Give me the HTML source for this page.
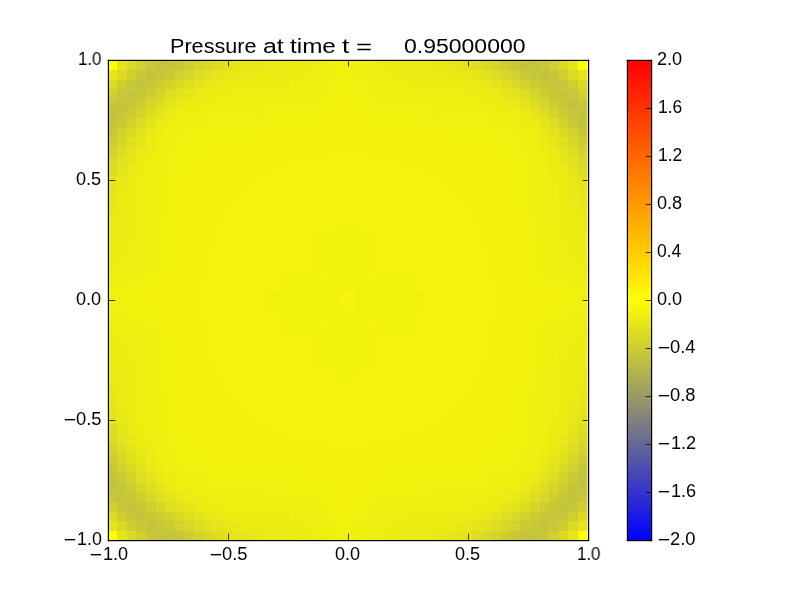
<!DOCTYPE html>
<html><head><meta charset="utf-8"><style>
html,body{margin:0;padding:0;background:#fff;width:800px;height:600px;overflow:hidden;position:relative}
.t{position:absolute;transform-origin:0 0;will-change:transform;font-family:"Liberation Sans",sans-serif;color:#000;white-space:pre;line-height:1}
svg{position:absolute;left:0;top:0}
</style></head><body>
<svg width="800" height="600" viewBox="0 0 800 600">
<defs><linearGradient id="cb" x1="0" y1="1" x2="0" y2="0">
<stop offset="0" stop-color="#0000ff"/><stop offset="0.25" stop-color="#808080"/><stop offset="0.5" stop-color="#ffff00"/><stop offset="1" stop-color="#ff0000"/>
</linearGradient></defs>
<svg x="107.5" y="60.5" width="480" height="480" viewBox="0 0 50 50" preserveAspectRatio="none" style="shape-rendering:crispEdges">
<rect x="0" y="0" width="1" height="1" fill="#ffff00"/>
<rect x="1" y="0" width="1" height="1" fill="#e5e51a"/>
<rect x="2" y="0" width="1" height="1" fill="#dbdb24"/>
<rect x="3" y="0" width="1" height="1" fill="#d0d030"/>
<rect x="4" y="0" width="1" height="1" fill="#c7c738"/>
<rect x="5" y="0" width="1" height="1" fill="#c4c43c"/>
<rect x="6" y="0" width="1" height="1" fill="#c5c53b"/>
<rect x="7" y="0" width="1" height="1" fill="#c8c837"/>
<rect x="8" y="0" width="1" height="1" fill="#cece32"/>
<rect x="9" y="0" width="1" height="1" fill="#d4d42c"/>
<rect x="10" y="0" width="1" height="1" fill="#d9d926"/>
<rect x="11" y="0" width="1" height="1" fill="#dede21"/>
<rect x="12" y="0" width="1" height="1" fill="#e2e21d"/>
<rect x="13" y="0" width="1" height="1" fill="#e5e51a"/>
<rect x="14" y="0" width="1" height="1" fill="#e7e718"/>
<rect x="15" y="0" width="1" height="1" fill="#e8e817"/>
<rect x="16" y="0" width="1" height="1" fill="#eaea16"/>
<rect x="17" y="0" width="1" height="1" fill="#eaea15"/>
<rect x="18" y="0" width="2" height="1" fill="#ebeb14"/>
<rect x="20" y="0" width="1" height="1" fill="#ecec13"/>
<rect x="21" y="0" width="1" height="1" fill="#eded12"/>
<rect x="22" y="0" width="1" height="1" fill="#eeee11"/>
<rect x="23" y="0" width="1" height="1" fill="#f0f010"/>
<rect x="24" y="0" width="2" height="1" fill="#f1f10f"/>
<rect x="26" y="0" width="1" height="1" fill="#f0f010"/>
<rect x="27" y="0" width="1" height="1" fill="#eeee11"/>
<rect x="28" y="0" width="1" height="1" fill="#eded12"/>
<rect x="29" y="0" width="1" height="1" fill="#ecec13"/>
<rect x="30" y="0" width="2" height="1" fill="#ebeb14"/>
<rect x="32" y="0" width="1" height="1" fill="#eaea15"/>
<rect x="33" y="0" width="1" height="1" fill="#eaea16"/>
<rect x="34" y="0" width="1" height="1" fill="#e8e817"/>
<rect x="35" y="0" width="1" height="1" fill="#e7e718"/>
<rect x="36" y="0" width="1" height="1" fill="#e5e51a"/>
<rect x="37" y="0" width="1" height="1" fill="#e2e21d"/>
<rect x="38" y="0" width="1" height="1" fill="#dede21"/>
<rect x="39" y="0" width="1" height="1" fill="#d9d926"/>
<rect x="40" y="0" width="1" height="1" fill="#d4d42c"/>
<rect x="41" y="0" width="1" height="1" fill="#cece32"/>
<rect x="42" y="0" width="1" height="1" fill="#c8c837"/>
<rect x="43" y="0" width="1" height="1" fill="#c5c53b"/>
<rect x="44" y="0" width="1" height="1" fill="#c4c43c"/>
<rect x="45" y="0" width="1" height="1" fill="#c7c738"/>
<rect x="46" y="0" width="1" height="1" fill="#d0d030"/>
<rect x="47" y="0" width="1" height="1" fill="#dbdb24"/>
<rect x="48" y="0" width="1" height="1" fill="#e5e51a"/>
<rect x="49" y="0" width="1" height="1" fill="#ffff00"/>
<rect x="0" y="1" width="1" height="1" fill="#e5e51a"/>
<rect x="1" y="1" width="1" height="1" fill="#dbdb24"/>
<rect x="2" y="1" width="1" height="1" fill="#cfcf30"/>
<rect x="3" y="1" width="1" height="1" fill="#c7c739"/>
<rect x="4" y="1" width="1" height="1" fill="#c4c43b"/>
<rect x="5" y="1" width="1" height="1" fill="#c6c63a"/>
<rect x="6" y="1" width="1" height="1" fill="#caca35"/>
<rect x="7" y="1" width="1" height="1" fill="#d1d12f"/>
<rect x="8" y="1" width="1" height="1" fill="#d7d728"/>
<rect x="9" y="1" width="1" height="1" fill="#dddd22"/>
<rect x="10" y="1" width="1" height="1" fill="#e2e21e"/>
<rect x="11" y="1" width="1" height="1" fill="#e5e51a"/>
<rect x="12" y="1" width="1" height="1" fill="#e8e818"/>
<rect x="13" y="1" width="1" height="1" fill="#e9e916"/>
<rect x="14" y="1" width="1" height="1" fill="#eaea15"/>
<rect x="15" y="1" width="1" height="1" fill="#ebeb14"/>
<rect x="16" y="1" width="4" height="1" fill="#ecec13"/>
<rect x="20" y="1" width="1" height="1" fill="#eded12"/>
<rect x="21" y="1" width="1" height="1" fill="#eeee11"/>
<rect x="22" y="1" width="1" height="1" fill="#efef10"/>
<rect x="23" y="1" width="1" height="1" fill="#f0f00f"/>
<rect x="24" y="1" width="2" height="1" fill="#f1f10e"/>
<rect x="26" y="1" width="1" height="1" fill="#f0f00f"/>
<rect x="27" y="1" width="1" height="1" fill="#efef10"/>
<rect x="28" y="1" width="1" height="1" fill="#eeee11"/>
<rect x="29" y="1" width="1" height="1" fill="#eded12"/>
<rect x="30" y="1" width="4" height="1" fill="#ecec13"/>
<rect x="34" y="1" width="1" height="1" fill="#ebeb14"/>
<rect x="35" y="1" width="1" height="1" fill="#eaea15"/>
<rect x="36" y="1" width="1" height="1" fill="#e9e916"/>
<rect x="37" y="1" width="1" height="1" fill="#e8e818"/>
<rect x="38" y="1" width="1" height="1" fill="#e5e51a"/>
<rect x="39" y="1" width="1" height="1" fill="#e2e21e"/>
<rect x="40" y="1" width="1" height="1" fill="#dddd22"/>
<rect x="41" y="1" width="1" height="1" fill="#d7d728"/>
<rect x="42" y="1" width="1" height="1" fill="#d1d12f"/>
<rect x="43" y="1" width="1" height="1" fill="#caca35"/>
<rect x="44" y="1" width="1" height="1" fill="#c6c63a"/>
<rect x="45" y="1" width="1" height="1" fill="#c4c43b"/>
<rect x="46" y="1" width="1" height="1" fill="#c7c739"/>
<rect x="47" y="1" width="1" height="1" fill="#cfcf30"/>
<rect x="48" y="1" width="1" height="1" fill="#dbdb24"/>
<rect x="49" y="1" width="1" height="1" fill="#e5e51a"/>
<rect x="0" y="2" width="1" height="1" fill="#dbdb24"/>
<rect x="1" y="2" width="1" height="1" fill="#cfcf30"/>
<rect x="2" y="2" width="1" height="1" fill="#c7c738"/>
<rect x="3" y="2" width="1" height="1" fill="#c5c53b"/>
<rect x="4" y="2" width="1" height="1" fill="#c7c738"/>
<rect x="5" y="2" width="1" height="1" fill="#cdcd33"/>
<rect x="6" y="2" width="1" height="1" fill="#d3d32c"/>
<rect x="7" y="2" width="1" height="1" fill="#dada25"/>
<rect x="8" y="2" width="1" height="1" fill="#e0e01f"/>
<rect x="9" y="2" width="1" height="1" fill="#e5e51b"/>
<rect x="10" y="2" width="1" height="1" fill="#e8e817"/>
<rect x="11" y="2" width="1" height="1" fill="#eaea15"/>
<rect x="12" y="2" width="1" height="1" fill="#ebeb14"/>
<rect x="13" y="2" width="1" height="1" fill="#ecec13"/>
<rect x="14" y="2" width="5" height="1" fill="#eded12"/>
<rect x="19" y="2" width="2" height="1" fill="#eeee11"/>
<rect x="21" y="2" width="1" height="1" fill="#efef11"/>
<rect x="22" y="2" width="1" height="1" fill="#f0f010"/>
<rect x="23" y="2" width="1" height="1" fill="#f1f10f"/>
<rect x="24" y="2" width="2" height="1" fill="#f1f10e"/>
<rect x="26" y="2" width="1" height="1" fill="#f1f10f"/>
<rect x="27" y="2" width="1" height="1" fill="#f0f010"/>
<rect x="28" y="2" width="1" height="1" fill="#efef11"/>
<rect x="29" y="2" width="2" height="1" fill="#eeee11"/>
<rect x="31" y="2" width="5" height="1" fill="#eded12"/>
<rect x="36" y="2" width="1" height="1" fill="#ecec13"/>
<rect x="37" y="2" width="1" height="1" fill="#ebeb14"/>
<rect x="38" y="2" width="1" height="1" fill="#eaea15"/>
<rect x="39" y="2" width="1" height="1" fill="#e8e817"/>
<rect x="40" y="2" width="1" height="1" fill="#e5e51b"/>
<rect x="41" y="2" width="1" height="1" fill="#e0e01f"/>
<rect x="42" y="2" width="1" height="1" fill="#dada25"/>
<rect x="43" y="2" width="1" height="1" fill="#d3d32c"/>
<rect x="44" y="2" width="1" height="1" fill="#cdcd33"/>
<rect x="45" y="2" width="1" height="1" fill="#c7c738"/>
<rect x="46" y="2" width="1" height="1" fill="#c5c53b"/>
<rect x="47" y="2" width="1" height="1" fill="#c7c738"/>
<rect x="48" y="2" width="1" height="1" fill="#cfcf30"/>
<rect x="49" y="2" width="1" height="1" fill="#dbdb24"/>
<rect x="0" y="3" width="1" height="1" fill="#d0d030"/>
<rect x="1" y="3" width="1" height="1" fill="#c7c739"/>
<rect x="2" y="3" width="1" height="1" fill="#c5c53b"/>
<rect x="3" y="3" width="1" height="1" fill="#c8c837"/>
<rect x="4" y="3" width="1" height="1" fill="#cece31"/>
<rect x="5" y="3" width="1" height="1" fill="#d6d62a"/>
<rect x="6" y="3" width="1" height="1" fill="#dddd23"/>
<rect x="7" y="3" width="1" height="1" fill="#e3e31d"/>
<rect x="8" y="3" width="1" height="1" fill="#e7e718"/>
<rect x="9" y="3" width="1" height="1" fill="#eaea15"/>
<rect x="10" y="3" width="1" height="1" fill="#ecec13"/>
<rect x="11" y="3" width="1" height="1" fill="#eded12"/>
<rect x="12" y="3" width="1" height="1" fill="#eeee12"/>
<rect x="13" y="3" width="4" height="1" fill="#eeee11"/>
<rect x="17" y="3" width="1" height="1" fill="#efef11"/>
<rect x="18" y="3" width="4" height="1" fill="#efef10"/>
<rect x="22" y="3" width="1" height="1" fill="#f0f00f"/>
<rect x="23" y="3" width="1" height="1" fill="#f1f10e"/>
<rect x="24" y="3" width="2" height="1" fill="#f2f20e"/>
<rect x="26" y="3" width="1" height="1" fill="#f1f10e"/>
<rect x="27" y="3" width="1" height="1" fill="#f0f00f"/>
<rect x="28" y="3" width="4" height="1" fill="#efef10"/>
<rect x="32" y="3" width="1" height="1" fill="#efef11"/>
<rect x="33" y="3" width="4" height="1" fill="#eeee11"/>
<rect x="37" y="3" width="1" height="1" fill="#eeee12"/>
<rect x="38" y="3" width="1" height="1" fill="#eded12"/>
<rect x="39" y="3" width="1" height="1" fill="#ecec13"/>
<rect x="40" y="3" width="1" height="1" fill="#eaea15"/>
<rect x="41" y="3" width="1" height="1" fill="#e7e718"/>
<rect x="42" y="3" width="1" height="1" fill="#e3e31d"/>
<rect x="43" y="3" width="1" height="1" fill="#dddd23"/>
<rect x="44" y="3" width="1" height="1" fill="#d6d62a"/>
<rect x="45" y="3" width="1" height="1" fill="#cece31"/>
<rect x="46" y="3" width="1" height="1" fill="#c8c837"/>
<rect x="47" y="3" width="1" height="1" fill="#c5c53b"/>
<rect x="48" y="3" width="1" height="1" fill="#c7c739"/>
<rect x="49" y="3" width="1" height="1" fill="#d0d030"/>
<rect x="0" y="4" width="1" height="1" fill="#c7c738"/>
<rect x="1" y="4" width="1" height="1" fill="#c4c43b"/>
<rect x="2" y="4" width="1" height="1" fill="#c7c738"/>
<rect x="3" y="4" width="1" height="1" fill="#cece31"/>
<rect x="4" y="4" width="1" height="1" fill="#d7d729"/>
<rect x="5" y="4" width="1" height="1" fill="#dede21"/>
<rect x="6" y="4" width="1" height="1" fill="#e4e41b"/>
<rect x="7" y="4" width="1" height="1" fill="#e9e916"/>
<rect x="8" y="4" width="1" height="1" fill="#ecec14"/>
<rect x="9" y="4" width="1" height="1" fill="#eded12"/>
<rect x="10" y="4" width="1" height="1" fill="#eeee11"/>
<rect x="11" y="4" width="4" height="1" fill="#efef10"/>
<rect x="15" y="4" width="2" height="1" fill="#f0f010"/>
<rect x="17" y="4" width="5" height="1" fill="#f0f00f"/>
<rect x="22" y="4" width="2" height="1" fill="#f1f10e"/>
<rect x="24" y="4" width="2" height="1" fill="#f2f20d"/>
<rect x="26" y="4" width="2" height="1" fill="#f1f10e"/>
<rect x="28" y="4" width="5" height="1" fill="#f0f00f"/>
<rect x="33" y="4" width="2" height="1" fill="#f0f010"/>
<rect x="35" y="4" width="4" height="1" fill="#efef10"/>
<rect x="39" y="4" width="1" height="1" fill="#eeee11"/>
<rect x="40" y="4" width="1" height="1" fill="#eded12"/>
<rect x="41" y="4" width="1" height="1" fill="#ecec14"/>
<rect x="42" y="4" width="1" height="1" fill="#e9e916"/>
<rect x="43" y="4" width="1" height="1" fill="#e4e41b"/>
<rect x="44" y="4" width="1" height="1" fill="#dede21"/>
<rect x="45" y="4" width="1" height="1" fill="#d7d729"/>
<rect x="46" y="4" width="1" height="1" fill="#cece31"/>
<rect x="47" y="4" width="1" height="1" fill="#c7c738"/>
<rect x="48" y="4" width="1" height="1" fill="#c4c43b"/>
<rect x="49" y="4" width="1" height="1" fill="#c7c738"/>
<rect x="0" y="5" width="1" height="1" fill="#c4c43c"/>
<rect x="1" y="5" width="1" height="1" fill="#c6c63a"/>
<rect x="2" y="5" width="1" height="1" fill="#cdcd33"/>
<rect x="3" y="5" width="1" height="1" fill="#d6d62a"/>
<rect x="4" y="5" width="1" height="1" fill="#dede21"/>
<rect x="5" y="5" width="1" height="1" fill="#e5e51a"/>
<rect x="6" y="5" width="1" height="1" fill="#eaea15"/>
<rect x="7" y="5" width="1" height="1" fill="#eded13"/>
<rect x="8" y="5" width="1" height="1" fill="#eeee11"/>
<rect x="9" y="5" width="1" height="1" fill="#efef10"/>
<rect x="10" y="5" width="6" height="1" fill="#f0f00f"/>
<rect x="16" y="5" width="2" height="1" fill="#f1f10f"/>
<rect x="18" y="5" width="5" height="1" fill="#f1f10e"/>
<rect x="23" y="5" width="4" height="1" fill="#f2f20d"/>
<rect x="27" y="5" width="5" height="1" fill="#f1f10e"/>
<rect x="32" y="5" width="2" height="1" fill="#f1f10f"/>
<rect x="34" y="5" width="6" height="1" fill="#f0f00f"/>
<rect x="40" y="5" width="1" height="1" fill="#efef10"/>
<rect x="41" y="5" width="1" height="1" fill="#eeee11"/>
<rect x="42" y="5" width="1" height="1" fill="#eded13"/>
<rect x="43" y="5" width="1" height="1" fill="#eaea15"/>
<rect x="44" y="5" width="1" height="1" fill="#e5e51a"/>
<rect x="45" y="5" width="1" height="1" fill="#dede21"/>
<rect x="46" y="5" width="1" height="1" fill="#d6d62a"/>
<rect x="47" y="5" width="1" height="1" fill="#cdcd33"/>
<rect x="48" y="5" width="1" height="1" fill="#c6c63a"/>
<rect x="49" y="5" width="1" height="1" fill="#c4c43c"/>
<rect x="0" y="6" width="1" height="1" fill="#c5c53b"/>
<rect x="1" y="6" width="1" height="1" fill="#caca35"/>
<rect x="2" y="6" width="1" height="1" fill="#d3d32c"/>
<rect x="3" y="6" width="1" height="1" fill="#dddd23"/>
<rect x="4" y="6" width="1" height="1" fill="#e4e41b"/>
<rect x="5" y="6" width="1" height="1" fill="#eaea15"/>
<rect x="6" y="6" width="1" height="1" fill="#eded12"/>
<rect x="7" y="6" width="1" height="1" fill="#efef10"/>
<rect x="8" y="6" width="2" height="1" fill="#f0f00f"/>
<rect x="10" y="6" width="1" height="1" fill="#f1f10f"/>
<rect x="11" y="6" width="10" height="1" fill="#f1f10e"/>
<rect x="21" y="6" width="1" height="1" fill="#f2f20e"/>
<rect x="22" y="6" width="6" height="1" fill="#f2f20d"/>
<rect x="28" y="6" width="1" height="1" fill="#f2f20e"/>
<rect x="29" y="6" width="10" height="1" fill="#f1f10e"/>
<rect x="39" y="6" width="1" height="1" fill="#f1f10f"/>
<rect x="40" y="6" width="2" height="1" fill="#f0f00f"/>
<rect x="42" y="6" width="1" height="1" fill="#efef10"/>
<rect x="43" y="6" width="1" height="1" fill="#eded12"/>
<rect x="44" y="6" width="1" height="1" fill="#eaea15"/>
<rect x="45" y="6" width="1" height="1" fill="#e4e41b"/>
<rect x="46" y="6" width="1" height="1" fill="#dddd23"/>
<rect x="47" y="6" width="1" height="1" fill="#d3d32c"/>
<rect x="48" y="6" width="1" height="1" fill="#caca35"/>
<rect x="49" y="6" width="1" height="1" fill="#c5c53b"/>
<rect x="0" y="7" width="1" height="1" fill="#c8c837"/>
<rect x="1" y="7" width="1" height="1" fill="#d1d12f"/>
<rect x="2" y="7" width="1" height="1" fill="#dada25"/>
<rect x="3" y="7" width="1" height="1" fill="#e3e31d"/>
<rect x="4" y="7" width="1" height="1" fill="#e9e916"/>
<rect x="5" y="7" width="1" height="1" fill="#eded13"/>
<rect x="6" y="7" width="1" height="1" fill="#efef10"/>
<rect x="7" y="7" width="1" height="1" fill="#f0f00f"/>
<rect x="8" y="7" width="1" height="1" fill="#f1f10f"/>
<rect x="9" y="7" width="6" height="1" fill="#f1f10e"/>
<rect x="15" y="7" width="1" height="1" fill="#f2f20e"/>
<rect x="16" y="7" width="18" height="1" fill="#f2f20d"/>
<rect x="34" y="7" width="1" height="1" fill="#f2f20e"/>
<rect x="35" y="7" width="6" height="1" fill="#f1f10e"/>
<rect x="41" y="7" width="1" height="1" fill="#f1f10f"/>
<rect x="42" y="7" width="1" height="1" fill="#f0f00f"/>
<rect x="43" y="7" width="1" height="1" fill="#efef10"/>
<rect x="44" y="7" width="1" height="1" fill="#eded13"/>
<rect x="45" y="7" width="1" height="1" fill="#e9e916"/>
<rect x="46" y="7" width="1" height="1" fill="#e3e31d"/>
<rect x="47" y="7" width="1" height="1" fill="#dada25"/>
<rect x="48" y="7" width="1" height="1" fill="#d1d12f"/>
<rect x="49" y="7" width="1" height="1" fill="#c8c837"/>
<rect x="0" y="8" width="1" height="1" fill="#cece32"/>
<rect x="1" y="8" width="1" height="1" fill="#d7d728"/>
<rect x="2" y="8" width="1" height="1" fill="#e0e01f"/>
<rect x="3" y="8" width="1" height="1" fill="#e7e718"/>
<rect x="4" y="8" width="1" height="1" fill="#ecec14"/>
<rect x="5" y="8" width="1" height="1" fill="#eeee11"/>
<rect x="6" y="8" width="1" height="1" fill="#f0f00f"/>
<rect x="7" y="8" width="1" height="1" fill="#f1f10f"/>
<rect x="8" y="8" width="3" height="1" fill="#f1f10e"/>
<rect x="11" y="8" width="1" height="1" fill="#f2f20e"/>
<rect x="12" y="8" width="26" height="1" fill="#f2f20d"/>
<rect x="38" y="8" width="1" height="1" fill="#f2f20e"/>
<rect x="39" y="8" width="3" height="1" fill="#f1f10e"/>
<rect x="42" y="8" width="1" height="1" fill="#f1f10f"/>
<rect x="43" y="8" width="1" height="1" fill="#f0f00f"/>
<rect x="44" y="8" width="1" height="1" fill="#eeee11"/>
<rect x="45" y="8" width="1" height="1" fill="#ecec14"/>
<rect x="46" y="8" width="1" height="1" fill="#e7e718"/>
<rect x="47" y="8" width="1" height="1" fill="#e0e01f"/>
<rect x="48" y="8" width="1" height="1" fill="#d7d728"/>
<rect x="49" y="8" width="1" height="1" fill="#cece32"/>
<rect x="0" y="9" width="1" height="1" fill="#d4d42c"/>
<rect x="1" y="9" width="1" height="1" fill="#dddd22"/>
<rect x="2" y="9" width="1" height="1" fill="#e5e51b"/>
<rect x="3" y="9" width="1" height="1" fill="#eaea15"/>
<rect x="4" y="9" width="1" height="1" fill="#eded12"/>
<rect x="5" y="9" width="1" height="1" fill="#efef10"/>
<rect x="6" y="9" width="1" height="1" fill="#f0f00f"/>
<rect x="7" y="9" width="3" height="1" fill="#f1f10e"/>
<rect x="10" y="9" width="1" height="1" fill="#f2f20e"/>
<rect x="11" y="9" width="12" height="1" fill="#f2f20d"/>
<rect x="23" y="9" width="4" height="1" fill="#f3f30d"/>
<rect x="27" y="9" width="12" height="1" fill="#f2f20d"/>
<rect x="39" y="9" width="1" height="1" fill="#f2f20e"/>
<rect x="40" y="9" width="3" height="1" fill="#f1f10e"/>
<rect x="43" y="9" width="1" height="1" fill="#f0f00f"/>
<rect x="44" y="9" width="1" height="1" fill="#efef10"/>
<rect x="45" y="9" width="1" height="1" fill="#eded12"/>
<rect x="46" y="9" width="1" height="1" fill="#eaea15"/>
<rect x="47" y="9" width="1" height="1" fill="#e5e51b"/>
<rect x="48" y="9" width="1" height="1" fill="#dddd22"/>
<rect x="49" y="9" width="1" height="1" fill="#d4d42c"/>
<rect x="0" y="10" width="1" height="1" fill="#d9d926"/>
<rect x="1" y="10" width="1" height="1" fill="#e2e21e"/>
<rect x="2" y="10" width="1" height="1" fill="#e8e817"/>
<rect x="3" y="10" width="1" height="1" fill="#ecec13"/>
<rect x="4" y="10" width="1" height="1" fill="#eeee11"/>
<rect x="5" y="10" width="1" height="1" fill="#f0f00f"/>
<rect x="6" y="10" width="1" height="1" fill="#f1f10f"/>
<rect x="7" y="10" width="2" height="1" fill="#f1f10e"/>
<rect x="9" y="10" width="1" height="1" fill="#f2f20e"/>
<rect x="10" y="10" width="9" height="1" fill="#f2f20d"/>
<rect x="19" y="10" width="2" height="1" fill="#f3f30d"/>
<rect x="21" y="10" width="8" height="1" fill="#f3f30c"/>
<rect x="29" y="10" width="2" height="1" fill="#f3f30d"/>
<rect x="31" y="10" width="9" height="1" fill="#f2f20d"/>
<rect x="40" y="10" width="1" height="1" fill="#f2f20e"/>
<rect x="41" y="10" width="2" height="1" fill="#f1f10e"/>
<rect x="43" y="10" width="1" height="1" fill="#f1f10f"/>
<rect x="44" y="10" width="1" height="1" fill="#f0f00f"/>
<rect x="45" y="10" width="1" height="1" fill="#eeee11"/>
<rect x="46" y="10" width="1" height="1" fill="#ecec13"/>
<rect x="47" y="10" width="1" height="1" fill="#e8e817"/>
<rect x="48" y="10" width="1" height="1" fill="#e2e21e"/>
<rect x="49" y="10" width="1" height="1" fill="#d9d926"/>
<rect x="0" y="11" width="1" height="1" fill="#dede21"/>
<rect x="1" y="11" width="1" height="1" fill="#e5e51a"/>
<rect x="2" y="11" width="1" height="1" fill="#eaea15"/>
<rect x="3" y="11" width="1" height="1" fill="#eded12"/>
<rect x="4" y="11" width="1" height="1" fill="#efef10"/>
<rect x="5" y="11" width="1" height="1" fill="#f0f00f"/>
<rect x="6" y="11" width="2" height="1" fill="#f1f10e"/>
<rect x="8" y="11" width="1" height="1" fill="#f2f20e"/>
<rect x="9" y="11" width="8" height="1" fill="#f2f20d"/>
<rect x="17" y="11" width="1" height="1" fill="#f3f30d"/>
<rect x="18" y="11" width="14" height="1" fill="#f3f30c"/>
<rect x="32" y="11" width="1" height="1" fill="#f3f30d"/>
<rect x="33" y="11" width="8" height="1" fill="#f2f20d"/>
<rect x="41" y="11" width="1" height="1" fill="#f2f20e"/>
<rect x="42" y="11" width="2" height="1" fill="#f1f10e"/>
<rect x="44" y="11" width="1" height="1" fill="#f0f00f"/>
<rect x="45" y="11" width="1" height="1" fill="#efef10"/>
<rect x="46" y="11" width="1" height="1" fill="#eded12"/>
<rect x="47" y="11" width="1" height="1" fill="#eaea15"/>
<rect x="48" y="11" width="1" height="1" fill="#e5e51a"/>
<rect x="49" y="11" width="1" height="1" fill="#dede21"/>
<rect x="0" y="12" width="1" height="1" fill="#e2e21d"/>
<rect x="1" y="12" width="1" height="1" fill="#e8e818"/>
<rect x="2" y="12" width="1" height="1" fill="#ebeb14"/>
<rect x="3" y="12" width="1" height="1" fill="#eeee12"/>
<rect x="4" y="12" width="1" height="1" fill="#efef10"/>
<rect x="5" y="12" width="1" height="1" fill="#f0f00f"/>
<rect x="6" y="12" width="2" height="1" fill="#f1f10e"/>
<rect x="8" y="12" width="7" height="1" fill="#f2f20d"/>
<rect x="15" y="12" width="1" height="1" fill="#f3f30d"/>
<rect x="16" y="12" width="18" height="1" fill="#f3f30c"/>
<rect x="34" y="12" width="1" height="1" fill="#f3f30d"/>
<rect x="35" y="12" width="7" height="1" fill="#f2f20d"/>
<rect x="42" y="12" width="2" height="1" fill="#f1f10e"/>
<rect x="44" y="12" width="1" height="1" fill="#f0f00f"/>
<rect x="45" y="12" width="1" height="1" fill="#efef10"/>
<rect x="46" y="12" width="1" height="1" fill="#eeee12"/>
<rect x="47" y="12" width="1" height="1" fill="#ebeb14"/>
<rect x="48" y="12" width="1" height="1" fill="#e8e818"/>
<rect x="49" y="12" width="1" height="1" fill="#e2e21d"/>
<rect x="0" y="13" width="1" height="1" fill="#e5e51a"/>
<rect x="1" y="13" width="1" height="1" fill="#e9e916"/>
<rect x="2" y="13" width="1" height="1" fill="#ecec13"/>
<rect x="3" y="13" width="1" height="1" fill="#eeee11"/>
<rect x="4" y="13" width="1" height="1" fill="#efef10"/>
<rect x="5" y="13" width="1" height="1" fill="#f0f00f"/>
<rect x="6" y="13" width="2" height="1" fill="#f1f10e"/>
<rect x="8" y="13" width="6" height="1" fill="#f2f20d"/>
<rect x="14" y="13" width="1" height="1" fill="#f3f30d"/>
<rect x="15" y="13" width="20" height="1" fill="#f3f30c"/>
<rect x="35" y="13" width="1" height="1" fill="#f3f30d"/>
<rect x="36" y="13" width="6" height="1" fill="#f2f20d"/>
<rect x="42" y="13" width="2" height="1" fill="#f1f10e"/>
<rect x="44" y="13" width="1" height="1" fill="#f0f00f"/>
<rect x="45" y="13" width="1" height="1" fill="#efef10"/>
<rect x="46" y="13" width="1" height="1" fill="#eeee11"/>
<rect x="47" y="13" width="1" height="1" fill="#ecec13"/>
<rect x="48" y="13" width="1" height="1" fill="#e9e916"/>
<rect x="49" y="13" width="1" height="1" fill="#e5e51a"/>
<rect x="0" y="14" width="1" height="1" fill="#e7e718"/>
<rect x="1" y="14" width="1" height="1" fill="#eaea15"/>
<rect x="2" y="14" width="1" height="1" fill="#eded12"/>
<rect x="3" y="14" width="1" height="1" fill="#eeee11"/>
<rect x="4" y="14" width="1" height="1" fill="#efef10"/>
<rect x="5" y="14" width="1" height="1" fill="#f0f00f"/>
<rect x="6" y="14" width="2" height="1" fill="#f1f10e"/>
<rect x="8" y="14" width="5" height="1" fill="#f2f20d"/>
<rect x="13" y="14" width="1" height="1" fill="#f3f30d"/>
<rect x="14" y="14" width="22" height="1" fill="#f3f30c"/>
<rect x="36" y="14" width="1" height="1" fill="#f3f30d"/>
<rect x="37" y="14" width="5" height="1" fill="#f2f20d"/>
<rect x="42" y="14" width="2" height="1" fill="#f1f10e"/>
<rect x="44" y="14" width="1" height="1" fill="#f0f00f"/>
<rect x="45" y="14" width="1" height="1" fill="#efef10"/>
<rect x="46" y="14" width="1" height="1" fill="#eeee11"/>
<rect x="47" y="14" width="1" height="1" fill="#eded12"/>
<rect x="48" y="14" width="1" height="1" fill="#eaea15"/>
<rect x="49" y="14" width="1" height="1" fill="#e7e718"/>
<rect x="0" y="15" width="1" height="1" fill="#e8e817"/>
<rect x="1" y="15" width="1" height="1" fill="#ebeb14"/>
<rect x="2" y="15" width="1" height="1" fill="#eded12"/>
<rect x="3" y="15" width="1" height="1" fill="#eeee11"/>
<rect x="4" y="15" width="1" height="1" fill="#f0f010"/>
<rect x="5" y="15" width="1" height="1" fill="#f0f00f"/>
<rect x="6" y="15" width="1" height="1" fill="#f1f10e"/>
<rect x="7" y="15" width="1" height="1" fill="#f2f20e"/>
<rect x="8" y="15" width="4" height="1" fill="#f2f20d"/>
<rect x="12" y="15" width="1" height="1" fill="#f3f30d"/>
<rect x="13" y="15" width="24" height="1" fill="#f3f30c"/>
<rect x="37" y="15" width="1" height="1" fill="#f3f30d"/>
<rect x="38" y="15" width="4" height="1" fill="#f2f20d"/>
<rect x="42" y="15" width="1" height="1" fill="#f2f20e"/>
<rect x="43" y="15" width="1" height="1" fill="#f1f10e"/>
<rect x="44" y="15" width="1" height="1" fill="#f0f00f"/>
<rect x="45" y="15" width="1" height="1" fill="#f0f010"/>
<rect x="46" y="15" width="1" height="1" fill="#eeee11"/>
<rect x="47" y="15" width="1" height="1" fill="#eded12"/>
<rect x="48" y="15" width="1" height="1" fill="#ebeb14"/>
<rect x="49" y="15" width="1" height="1" fill="#e8e817"/>
<rect x="0" y="16" width="1" height="1" fill="#eaea16"/>
<rect x="1" y="16" width="1" height="1" fill="#ecec13"/>
<rect x="2" y="16" width="1" height="1" fill="#eded12"/>
<rect x="3" y="16" width="1" height="1" fill="#eeee11"/>
<rect x="4" y="16" width="1" height="1" fill="#f0f010"/>
<rect x="5" y="16" width="1" height="1" fill="#f1f10f"/>
<rect x="6" y="16" width="1" height="1" fill="#f1f10e"/>
<rect x="7" y="16" width="5" height="1" fill="#f2f20d"/>
<rect x="12" y="16" width="26" height="1" fill="#f3f30c"/>
<rect x="38" y="16" width="5" height="1" fill="#f2f20d"/>
<rect x="43" y="16" width="1" height="1" fill="#f1f10e"/>
<rect x="44" y="16" width="1" height="1" fill="#f1f10f"/>
<rect x="45" y="16" width="1" height="1" fill="#f0f010"/>
<rect x="46" y="16" width="1" height="1" fill="#eeee11"/>
<rect x="47" y="16" width="1" height="1" fill="#eded12"/>
<rect x="48" y="16" width="1" height="1" fill="#ecec13"/>
<rect x="49" y="16" width="1" height="1" fill="#eaea16"/>
<rect x="0" y="17" width="1" height="1" fill="#eaea15"/>
<rect x="1" y="17" width="1" height="1" fill="#ecec13"/>
<rect x="2" y="17" width="1" height="1" fill="#eded12"/>
<rect x="3" y="17" width="1" height="1" fill="#efef11"/>
<rect x="4" y="17" width="1" height="1" fill="#f0f00f"/>
<rect x="5" y="17" width="1" height="1" fill="#f1f10f"/>
<rect x="6" y="17" width="1" height="1" fill="#f1f10e"/>
<rect x="7" y="17" width="4" height="1" fill="#f2f20d"/>
<rect x="11" y="17" width="1" height="1" fill="#f3f30d"/>
<rect x="12" y="17" width="12" height="1" fill="#f3f30c"/>
<rect x="24" y="17" width="2" height="1" fill="#f1f10e"/>
<rect x="26" y="17" width="12" height="1" fill="#f3f30c"/>
<rect x="38" y="17" width="1" height="1" fill="#f3f30d"/>
<rect x="39" y="17" width="4" height="1" fill="#f2f20d"/>
<rect x="43" y="17" width="1" height="1" fill="#f1f10e"/>
<rect x="44" y="17" width="1" height="1" fill="#f1f10f"/>
<rect x="45" y="17" width="1" height="1" fill="#f0f00f"/>
<rect x="46" y="17" width="1" height="1" fill="#efef11"/>
<rect x="47" y="17" width="1" height="1" fill="#eded12"/>
<rect x="48" y="17" width="1" height="1" fill="#ecec13"/>
<rect x="49" y="17" width="1" height="1" fill="#eaea15"/>
<rect x="0" y="18" width="1" height="1" fill="#ebeb14"/>
<rect x="1" y="18" width="1" height="1" fill="#ecec13"/>
<rect x="2" y="18" width="1" height="1" fill="#eded12"/>
<rect x="3" y="18" width="1" height="1" fill="#efef10"/>
<rect x="4" y="18" width="1" height="1" fill="#f0f00f"/>
<rect x="5" y="18" width="2" height="1" fill="#f1f10e"/>
<rect x="7" y="18" width="4" height="1" fill="#f2f20d"/>
<rect x="11" y="18" width="11" height="1" fill="#f3f30c"/>
<rect x="22" y="18" width="6" height="1" fill="#f1f10e"/>
<rect x="28" y="18" width="11" height="1" fill="#f3f30c"/>
<rect x="39" y="18" width="4" height="1" fill="#f2f20d"/>
<rect x="43" y="18" width="2" height="1" fill="#f1f10e"/>
<rect x="45" y="18" width="1" height="1" fill="#f0f00f"/>
<rect x="46" y="18" width="1" height="1" fill="#efef10"/>
<rect x="47" y="18" width="1" height="1" fill="#eded12"/>
<rect x="48" y="18" width="1" height="1" fill="#ecec13"/>
<rect x="49" y="18" width="1" height="1" fill="#ebeb14"/>
<rect x="0" y="19" width="1" height="1" fill="#ebeb14"/>
<rect x="1" y="19" width="1" height="1" fill="#ecec13"/>
<rect x="2" y="19" width="1" height="1" fill="#eeee11"/>
<rect x="3" y="19" width="1" height="1" fill="#efef10"/>
<rect x="4" y="19" width="1" height="1" fill="#f0f00f"/>
<rect x="5" y="19" width="2" height="1" fill="#f1f10e"/>
<rect x="7" y="19" width="3" height="1" fill="#f2f20d"/>
<rect x="10" y="19" width="1" height="1" fill="#f3f30d"/>
<rect x="11" y="19" width="11" height="1" fill="#f3f30c"/>
<rect x="22" y="19" width="6" height="1" fill="#f1f10e"/>
<rect x="28" y="19" width="11" height="1" fill="#f3f30c"/>
<rect x="39" y="19" width="1" height="1" fill="#f3f30d"/>
<rect x="40" y="19" width="3" height="1" fill="#f2f20d"/>
<rect x="43" y="19" width="2" height="1" fill="#f1f10e"/>
<rect x="45" y="19" width="1" height="1" fill="#f0f00f"/>
<rect x="46" y="19" width="1" height="1" fill="#efef10"/>
<rect x="47" y="19" width="1" height="1" fill="#eeee11"/>
<rect x="48" y="19" width="1" height="1" fill="#ecec13"/>
<rect x="49" y="19" width="1" height="1" fill="#ebeb14"/>
<rect x="0" y="20" width="1" height="1" fill="#ecec13"/>
<rect x="1" y="20" width="1" height="1" fill="#eded12"/>
<rect x="2" y="20" width="1" height="1" fill="#eeee11"/>
<rect x="3" y="20" width="1" height="1" fill="#efef10"/>
<rect x="4" y="20" width="1" height="1" fill="#f0f00f"/>
<rect x="5" y="20" width="2" height="1" fill="#f1f10e"/>
<rect x="7" y="20" width="3" height="1" fill="#f2f20d"/>
<rect x="10" y="20" width="1" height="1" fill="#f3f30d"/>
<rect x="11" y="20" width="11" height="1" fill="#f3f30c"/>
<rect x="22" y="20" width="6" height="1" fill="#f1f10e"/>
<rect x="28" y="20" width="11" height="1" fill="#f3f30c"/>
<rect x="39" y="20" width="1" height="1" fill="#f3f30d"/>
<rect x="40" y="20" width="3" height="1" fill="#f2f20d"/>
<rect x="43" y="20" width="2" height="1" fill="#f1f10e"/>
<rect x="45" y="20" width="1" height="1" fill="#f0f00f"/>
<rect x="46" y="20" width="1" height="1" fill="#efef10"/>
<rect x="47" y="20" width="1" height="1" fill="#eeee11"/>
<rect x="48" y="20" width="1" height="1" fill="#eded12"/>
<rect x="49" y="20" width="1" height="1" fill="#ecec13"/>
<rect x="0" y="21" width="1" height="1" fill="#eded12"/>
<rect x="1" y="21" width="1" height="1" fill="#eeee11"/>
<rect x="2" y="21" width="1" height="1" fill="#efef11"/>
<rect x="3" y="21" width="1" height="1" fill="#efef10"/>
<rect x="4" y="21" width="1" height="1" fill="#f0f00f"/>
<rect x="5" y="21" width="1" height="1" fill="#f1f10e"/>
<rect x="6" y="21" width="1" height="1" fill="#f2f20e"/>
<rect x="7" y="21" width="3" height="1" fill="#f2f20d"/>
<rect x="10" y="21" width="12" height="1" fill="#f3f30c"/>
<rect x="22" y="21" width="6" height="1" fill="#f1f10e"/>
<rect x="28" y="21" width="12" height="1" fill="#f3f30c"/>
<rect x="40" y="21" width="3" height="1" fill="#f2f20d"/>
<rect x="43" y="21" width="1" height="1" fill="#f2f20e"/>
<rect x="44" y="21" width="1" height="1" fill="#f1f10e"/>
<rect x="45" y="21" width="1" height="1" fill="#f0f00f"/>
<rect x="46" y="21" width="1" height="1" fill="#efef10"/>
<rect x="47" y="21" width="1" height="1" fill="#efef11"/>
<rect x="48" y="21" width="1" height="1" fill="#eeee11"/>
<rect x="49" y="21" width="1" height="1" fill="#eded12"/>
<rect x="0" y="22" width="1" height="1" fill="#eeee11"/>
<rect x="1" y="22" width="1" height="1" fill="#efef10"/>
<rect x="2" y="22" width="1" height="1" fill="#f0f010"/>
<rect x="3" y="22" width="1" height="1" fill="#f0f00f"/>
<rect x="4" y="22" width="2" height="1" fill="#f1f10e"/>
<rect x="6" y="22" width="4" height="1" fill="#f2f20d"/>
<rect x="10" y="22" width="8" height="1" fill="#f3f30c"/>
<rect x="18" y="22" width="4" height="1" fill="#f1f10e"/>
<rect x="22" y="22" width="1" height="1" fill="#f4f40c"/>
<rect x="23" y="22" width="4" height="1" fill="#f1f10e"/>
<rect x="27" y="22" width="1" height="1" fill="#f4f40c"/>
<rect x="28" y="22" width="4" height="1" fill="#f1f10e"/>
<rect x="32" y="22" width="8" height="1" fill="#f3f30c"/>
<rect x="40" y="22" width="4" height="1" fill="#f2f20d"/>
<rect x="44" y="22" width="2" height="1" fill="#f1f10e"/>
<rect x="46" y="22" width="1" height="1" fill="#f0f00f"/>
<rect x="47" y="22" width="1" height="1" fill="#f0f010"/>
<rect x="48" y="22" width="1" height="1" fill="#efef10"/>
<rect x="49" y="22" width="1" height="1" fill="#eeee11"/>
<rect x="0" y="23" width="1" height="1" fill="#f0f010"/>
<rect x="1" y="23" width="1" height="1" fill="#f0f00f"/>
<rect x="2" y="23" width="1" height="1" fill="#f1f10f"/>
<rect x="3" y="23" width="2" height="1" fill="#f1f10e"/>
<rect x="5" y="23" width="4" height="1" fill="#f2f20d"/>
<rect x="9" y="23" width="1" height="1" fill="#f3f30d"/>
<rect x="10" y="23" width="8" height="1" fill="#f3f30c"/>
<rect x="18" y="23" width="14" height="1" fill="#f1f10e"/>
<rect x="32" y="23" width="8" height="1" fill="#f3f30c"/>
<rect x="40" y="23" width="1" height="1" fill="#f3f30d"/>
<rect x="41" y="23" width="4" height="1" fill="#f2f20d"/>
<rect x="45" y="23" width="2" height="1" fill="#f1f10e"/>
<rect x="47" y="23" width="1" height="1" fill="#f1f10f"/>
<rect x="48" y="23" width="1" height="1" fill="#f0f00f"/>
<rect x="49" y="23" width="1" height="1" fill="#f0f010"/>
<rect x="0" y="24" width="1" height="1" fill="#f1f10f"/>
<rect x="1" y="24" width="2" height="1" fill="#f1f10e"/>
<rect x="3" y="24" width="1" height="1" fill="#f2f20e"/>
<rect x="4" y="24" width="5" height="1" fill="#f2f20d"/>
<rect x="9" y="24" width="1" height="1" fill="#f3f30d"/>
<rect x="10" y="24" width="7" height="1" fill="#f3f30c"/>
<rect x="17" y="24" width="7" height="1" fill="#f1f10e"/>
<rect x="24" y="24" width="2" height="1" fill="#f4f40c"/>
<rect x="26" y="24" width="7" height="1" fill="#f1f10e"/>
<rect x="33" y="24" width="7" height="1" fill="#f3f30c"/>
<rect x="40" y="24" width="1" height="1" fill="#f3f30d"/>
<rect x="41" y="24" width="5" height="1" fill="#f2f20d"/>
<rect x="46" y="24" width="1" height="1" fill="#f2f20e"/>
<rect x="47" y="24" width="2" height="1" fill="#f1f10e"/>
<rect x="49" y="24" width="1" height="1" fill="#f1f10f"/>
<rect x="0" y="25" width="1" height="1" fill="#f1f10f"/>
<rect x="1" y="25" width="2" height="1" fill="#f1f10e"/>
<rect x="3" y="25" width="1" height="1" fill="#f2f20e"/>
<rect x="4" y="25" width="5" height="1" fill="#f2f20d"/>
<rect x="9" y="25" width="1" height="1" fill="#f3f30d"/>
<rect x="10" y="25" width="7" height="1" fill="#f3f30c"/>
<rect x="17" y="25" width="7" height="1" fill="#f1f10e"/>
<rect x="24" y="25" width="2" height="1" fill="#f4f40c"/>
<rect x="26" y="25" width="7" height="1" fill="#f1f10e"/>
<rect x="33" y="25" width="7" height="1" fill="#f3f30c"/>
<rect x="40" y="25" width="1" height="1" fill="#f3f30d"/>
<rect x="41" y="25" width="5" height="1" fill="#f2f20d"/>
<rect x="46" y="25" width="1" height="1" fill="#f2f20e"/>
<rect x="47" y="25" width="2" height="1" fill="#f1f10e"/>
<rect x="49" y="25" width="1" height="1" fill="#f1f10f"/>
<rect x="0" y="26" width="1" height="1" fill="#f0f010"/>
<rect x="1" y="26" width="1" height="1" fill="#f0f00f"/>
<rect x="2" y="26" width="1" height="1" fill="#f1f10f"/>
<rect x="3" y="26" width="2" height="1" fill="#f1f10e"/>
<rect x="5" y="26" width="4" height="1" fill="#f2f20d"/>
<rect x="9" y="26" width="1" height="1" fill="#f3f30d"/>
<rect x="10" y="26" width="8" height="1" fill="#f3f30c"/>
<rect x="18" y="26" width="14" height="1" fill="#f1f10e"/>
<rect x="32" y="26" width="8" height="1" fill="#f3f30c"/>
<rect x="40" y="26" width="1" height="1" fill="#f3f30d"/>
<rect x="41" y="26" width="4" height="1" fill="#f2f20d"/>
<rect x="45" y="26" width="2" height="1" fill="#f1f10e"/>
<rect x="47" y="26" width="1" height="1" fill="#f1f10f"/>
<rect x="48" y="26" width="1" height="1" fill="#f0f00f"/>
<rect x="49" y="26" width="1" height="1" fill="#f0f010"/>
<rect x="0" y="27" width="1" height="1" fill="#eeee11"/>
<rect x="1" y="27" width="1" height="1" fill="#efef10"/>
<rect x="2" y="27" width="1" height="1" fill="#f0f010"/>
<rect x="3" y="27" width="1" height="1" fill="#f0f00f"/>
<rect x="4" y="27" width="2" height="1" fill="#f1f10e"/>
<rect x="6" y="27" width="4" height="1" fill="#f2f20d"/>
<rect x="10" y="27" width="8" height="1" fill="#f3f30c"/>
<rect x="18" y="27" width="4" height="1" fill="#f1f10e"/>
<rect x="22" y="27" width="1" height="1" fill="#f4f40c"/>
<rect x="23" y="27" width="4" height="1" fill="#f1f10e"/>
<rect x="27" y="27" width="1" height="1" fill="#f4f40c"/>
<rect x="28" y="27" width="4" height="1" fill="#f1f10e"/>
<rect x="32" y="27" width="8" height="1" fill="#f3f30c"/>
<rect x="40" y="27" width="4" height="1" fill="#f2f20d"/>
<rect x="44" y="27" width="2" height="1" fill="#f1f10e"/>
<rect x="46" y="27" width="1" height="1" fill="#f0f00f"/>
<rect x="47" y="27" width="1" height="1" fill="#f0f010"/>
<rect x="48" y="27" width="1" height="1" fill="#efef10"/>
<rect x="49" y="27" width="1" height="1" fill="#eeee11"/>
<rect x="0" y="28" width="1" height="1" fill="#eded12"/>
<rect x="1" y="28" width="1" height="1" fill="#eeee11"/>
<rect x="2" y="28" width="1" height="1" fill="#efef11"/>
<rect x="3" y="28" width="1" height="1" fill="#efef10"/>
<rect x="4" y="28" width="1" height="1" fill="#f0f00f"/>
<rect x="5" y="28" width="1" height="1" fill="#f1f10e"/>
<rect x="6" y="28" width="1" height="1" fill="#f2f20e"/>
<rect x="7" y="28" width="3" height="1" fill="#f2f20d"/>
<rect x="10" y="28" width="12" height="1" fill="#f3f30c"/>
<rect x="22" y="28" width="6" height="1" fill="#f1f10e"/>
<rect x="28" y="28" width="12" height="1" fill="#f3f30c"/>
<rect x="40" y="28" width="3" height="1" fill="#f2f20d"/>
<rect x="43" y="28" width="1" height="1" fill="#f2f20e"/>
<rect x="44" y="28" width="1" height="1" fill="#f1f10e"/>
<rect x="45" y="28" width="1" height="1" fill="#f0f00f"/>
<rect x="46" y="28" width="1" height="1" fill="#efef10"/>
<rect x="47" y="28" width="1" height="1" fill="#efef11"/>
<rect x="48" y="28" width="1" height="1" fill="#eeee11"/>
<rect x="49" y="28" width="1" height="1" fill="#eded12"/>
<rect x="0" y="29" width="1" height="1" fill="#ecec13"/>
<rect x="1" y="29" width="1" height="1" fill="#eded12"/>
<rect x="2" y="29" width="1" height="1" fill="#eeee11"/>
<rect x="3" y="29" width="1" height="1" fill="#efef10"/>
<rect x="4" y="29" width="1" height="1" fill="#f0f00f"/>
<rect x="5" y="29" width="2" height="1" fill="#f1f10e"/>
<rect x="7" y="29" width="3" height="1" fill="#f2f20d"/>
<rect x="10" y="29" width="1" height="1" fill="#f3f30d"/>
<rect x="11" y="29" width="11" height="1" fill="#f3f30c"/>
<rect x="22" y="29" width="6" height="1" fill="#f1f10e"/>
<rect x="28" y="29" width="11" height="1" fill="#f3f30c"/>
<rect x="39" y="29" width="1" height="1" fill="#f3f30d"/>
<rect x="40" y="29" width="3" height="1" fill="#f2f20d"/>
<rect x="43" y="29" width="2" height="1" fill="#f1f10e"/>
<rect x="45" y="29" width="1" height="1" fill="#f0f00f"/>
<rect x="46" y="29" width="1" height="1" fill="#efef10"/>
<rect x="47" y="29" width="1" height="1" fill="#eeee11"/>
<rect x="48" y="29" width="1" height="1" fill="#eded12"/>
<rect x="49" y="29" width="1" height="1" fill="#ecec13"/>
<rect x="0" y="30" width="1" height="1" fill="#ebeb14"/>
<rect x="1" y="30" width="1" height="1" fill="#ecec13"/>
<rect x="2" y="30" width="1" height="1" fill="#eeee11"/>
<rect x="3" y="30" width="1" height="1" fill="#efef10"/>
<rect x="4" y="30" width="1" height="1" fill="#f0f00f"/>
<rect x="5" y="30" width="2" height="1" fill="#f1f10e"/>
<rect x="7" y="30" width="3" height="1" fill="#f2f20d"/>
<rect x="10" y="30" width="1" height="1" fill="#f3f30d"/>
<rect x="11" y="30" width="11" height="1" fill="#f3f30c"/>
<rect x="22" y="30" width="6" height="1" fill="#f1f10e"/>
<rect x="28" y="30" width="11" height="1" fill="#f3f30c"/>
<rect x="39" y="30" width="1" height="1" fill="#f3f30d"/>
<rect x="40" y="30" width="3" height="1" fill="#f2f20d"/>
<rect x="43" y="30" width="2" height="1" fill="#f1f10e"/>
<rect x="45" y="30" width="1" height="1" fill="#f0f00f"/>
<rect x="46" y="30" width="1" height="1" fill="#efef10"/>
<rect x="47" y="30" width="1" height="1" fill="#eeee11"/>
<rect x="48" y="30" width="1" height="1" fill="#ecec13"/>
<rect x="49" y="30" width="1" height="1" fill="#ebeb14"/>
<rect x="0" y="31" width="1" height="1" fill="#ebeb14"/>
<rect x="1" y="31" width="1" height="1" fill="#ecec13"/>
<rect x="2" y="31" width="1" height="1" fill="#eded12"/>
<rect x="3" y="31" width="1" height="1" fill="#efef10"/>
<rect x="4" y="31" width="1" height="1" fill="#f0f00f"/>
<rect x="5" y="31" width="2" height="1" fill="#f1f10e"/>
<rect x="7" y="31" width="4" height="1" fill="#f2f20d"/>
<rect x="11" y="31" width="11" height="1" fill="#f3f30c"/>
<rect x="22" y="31" width="6" height="1" fill="#f1f10e"/>
<rect x="28" y="31" width="11" height="1" fill="#f3f30c"/>
<rect x="39" y="31" width="4" height="1" fill="#f2f20d"/>
<rect x="43" y="31" width="2" height="1" fill="#f1f10e"/>
<rect x="45" y="31" width="1" height="1" fill="#f0f00f"/>
<rect x="46" y="31" width="1" height="1" fill="#efef10"/>
<rect x="47" y="31" width="1" height="1" fill="#eded12"/>
<rect x="48" y="31" width="1" height="1" fill="#ecec13"/>
<rect x="49" y="31" width="1" height="1" fill="#ebeb14"/>
<rect x="0" y="32" width="1" height="1" fill="#eaea15"/>
<rect x="1" y="32" width="1" height="1" fill="#ecec13"/>
<rect x="2" y="32" width="1" height="1" fill="#eded12"/>
<rect x="3" y="32" width="1" height="1" fill="#efef11"/>
<rect x="4" y="32" width="1" height="1" fill="#f0f00f"/>
<rect x="5" y="32" width="1" height="1" fill="#f1f10f"/>
<rect x="6" y="32" width="1" height="1" fill="#f1f10e"/>
<rect x="7" y="32" width="4" height="1" fill="#f2f20d"/>
<rect x="11" y="32" width="1" height="1" fill="#f3f30d"/>
<rect x="12" y="32" width="12" height="1" fill="#f3f30c"/>
<rect x="24" y="32" width="2" height="1" fill="#f1f10e"/>
<rect x="26" y="32" width="12" height="1" fill="#f3f30c"/>
<rect x="38" y="32" width="1" height="1" fill="#f3f30d"/>
<rect x="39" y="32" width="4" height="1" fill="#f2f20d"/>
<rect x="43" y="32" width="1" height="1" fill="#f1f10e"/>
<rect x="44" y="32" width="1" height="1" fill="#f1f10f"/>
<rect x="45" y="32" width="1" height="1" fill="#f0f00f"/>
<rect x="46" y="32" width="1" height="1" fill="#efef11"/>
<rect x="47" y="32" width="1" height="1" fill="#eded12"/>
<rect x="48" y="32" width="1" height="1" fill="#ecec13"/>
<rect x="49" y="32" width="1" height="1" fill="#eaea15"/>
<rect x="0" y="33" width="1" height="1" fill="#eaea16"/>
<rect x="1" y="33" width="1" height="1" fill="#ecec13"/>
<rect x="2" y="33" width="1" height="1" fill="#eded12"/>
<rect x="3" y="33" width="1" height="1" fill="#eeee11"/>
<rect x="4" y="33" width="1" height="1" fill="#f0f010"/>
<rect x="5" y="33" width="1" height="1" fill="#f1f10f"/>
<rect x="6" y="33" width="1" height="1" fill="#f1f10e"/>
<rect x="7" y="33" width="5" height="1" fill="#f2f20d"/>
<rect x="12" y="33" width="26" height="1" fill="#f3f30c"/>
<rect x="38" y="33" width="5" height="1" fill="#f2f20d"/>
<rect x="43" y="33" width="1" height="1" fill="#f1f10e"/>
<rect x="44" y="33" width="1" height="1" fill="#f1f10f"/>
<rect x="45" y="33" width="1" height="1" fill="#f0f010"/>
<rect x="46" y="33" width="1" height="1" fill="#eeee11"/>
<rect x="47" y="33" width="1" height="1" fill="#eded12"/>
<rect x="48" y="33" width="1" height="1" fill="#ecec13"/>
<rect x="49" y="33" width="1" height="1" fill="#eaea16"/>
<rect x="0" y="34" width="1" height="1" fill="#e8e817"/>
<rect x="1" y="34" width="1" height="1" fill="#ebeb14"/>
<rect x="2" y="34" width="1" height="1" fill="#eded12"/>
<rect x="3" y="34" width="1" height="1" fill="#eeee11"/>
<rect x="4" y="34" width="1" height="1" fill="#f0f010"/>
<rect x="5" y="34" width="1" height="1" fill="#f0f00f"/>
<rect x="6" y="34" width="1" height="1" fill="#f1f10e"/>
<rect x="7" y="34" width="1" height="1" fill="#f2f20e"/>
<rect x="8" y="34" width="4" height="1" fill="#f2f20d"/>
<rect x="12" y="34" width="1" height="1" fill="#f3f30d"/>
<rect x="13" y="34" width="24" height="1" fill="#f3f30c"/>
<rect x="37" y="34" width="1" height="1" fill="#f3f30d"/>
<rect x="38" y="34" width="4" height="1" fill="#f2f20d"/>
<rect x="42" y="34" width="1" height="1" fill="#f2f20e"/>
<rect x="43" y="34" width="1" height="1" fill="#f1f10e"/>
<rect x="44" y="34" width="1" height="1" fill="#f0f00f"/>
<rect x="45" y="34" width="1" height="1" fill="#f0f010"/>
<rect x="46" y="34" width="1" height="1" fill="#eeee11"/>
<rect x="47" y="34" width="1" height="1" fill="#eded12"/>
<rect x="48" y="34" width="1" height="1" fill="#ebeb14"/>
<rect x="49" y="34" width="1" height="1" fill="#e8e817"/>
<rect x="0" y="35" width="1" height="1" fill="#e7e718"/>
<rect x="1" y="35" width="1" height="1" fill="#eaea15"/>
<rect x="2" y="35" width="1" height="1" fill="#eded12"/>
<rect x="3" y="35" width="1" height="1" fill="#eeee11"/>
<rect x="4" y="35" width="1" height="1" fill="#efef10"/>
<rect x="5" y="35" width="1" height="1" fill="#f0f00f"/>
<rect x="6" y="35" width="2" height="1" fill="#f1f10e"/>
<rect x="8" y="35" width="5" height="1" fill="#f2f20d"/>
<rect x="13" y="35" width="1" height="1" fill="#f3f30d"/>
<rect x="14" y="35" width="22" height="1" fill="#f3f30c"/>
<rect x="36" y="35" width="1" height="1" fill="#f3f30d"/>
<rect x="37" y="35" width="5" height="1" fill="#f2f20d"/>
<rect x="42" y="35" width="2" height="1" fill="#f1f10e"/>
<rect x="44" y="35" width="1" height="1" fill="#f0f00f"/>
<rect x="45" y="35" width="1" height="1" fill="#efef10"/>
<rect x="46" y="35" width="1" height="1" fill="#eeee11"/>
<rect x="47" y="35" width="1" height="1" fill="#eded12"/>
<rect x="48" y="35" width="1" height="1" fill="#eaea15"/>
<rect x="49" y="35" width="1" height="1" fill="#e7e718"/>
<rect x="0" y="36" width="1" height="1" fill="#e5e51a"/>
<rect x="1" y="36" width="1" height="1" fill="#e9e916"/>
<rect x="2" y="36" width="1" height="1" fill="#ecec13"/>
<rect x="3" y="36" width="1" height="1" fill="#eeee11"/>
<rect x="4" y="36" width="1" height="1" fill="#efef10"/>
<rect x="5" y="36" width="1" height="1" fill="#f0f00f"/>
<rect x="6" y="36" width="2" height="1" fill="#f1f10e"/>
<rect x="8" y="36" width="6" height="1" fill="#f2f20d"/>
<rect x="14" y="36" width="1" height="1" fill="#f3f30d"/>
<rect x="15" y="36" width="20" height="1" fill="#f3f30c"/>
<rect x="35" y="36" width="1" height="1" fill="#f3f30d"/>
<rect x="36" y="36" width="6" height="1" fill="#f2f20d"/>
<rect x="42" y="36" width="2" height="1" fill="#f1f10e"/>
<rect x="44" y="36" width="1" height="1" fill="#f0f00f"/>
<rect x="45" y="36" width="1" height="1" fill="#efef10"/>
<rect x="46" y="36" width="1" height="1" fill="#eeee11"/>
<rect x="47" y="36" width="1" height="1" fill="#ecec13"/>
<rect x="48" y="36" width="1" height="1" fill="#e9e916"/>
<rect x="49" y="36" width="1" height="1" fill="#e5e51a"/>
<rect x="0" y="37" width="1" height="1" fill="#e2e21d"/>
<rect x="1" y="37" width="1" height="1" fill="#e8e818"/>
<rect x="2" y="37" width="1" height="1" fill="#ebeb14"/>
<rect x="3" y="37" width="1" height="1" fill="#eeee12"/>
<rect x="4" y="37" width="1" height="1" fill="#efef10"/>
<rect x="5" y="37" width="1" height="1" fill="#f0f00f"/>
<rect x="6" y="37" width="2" height="1" fill="#f1f10e"/>
<rect x="8" y="37" width="7" height="1" fill="#f2f20d"/>
<rect x="15" y="37" width="1" height="1" fill="#f3f30d"/>
<rect x="16" y="37" width="18" height="1" fill="#f3f30c"/>
<rect x="34" y="37" width="1" height="1" fill="#f3f30d"/>
<rect x="35" y="37" width="7" height="1" fill="#f2f20d"/>
<rect x="42" y="37" width="2" height="1" fill="#f1f10e"/>
<rect x="44" y="37" width="1" height="1" fill="#f0f00f"/>
<rect x="45" y="37" width="1" height="1" fill="#efef10"/>
<rect x="46" y="37" width="1" height="1" fill="#eeee12"/>
<rect x="47" y="37" width="1" height="1" fill="#ebeb14"/>
<rect x="48" y="37" width="1" height="1" fill="#e8e818"/>
<rect x="49" y="37" width="1" height="1" fill="#e2e21d"/>
<rect x="0" y="38" width="1" height="1" fill="#dede21"/>
<rect x="1" y="38" width="1" height="1" fill="#e5e51a"/>
<rect x="2" y="38" width="1" height="1" fill="#eaea15"/>
<rect x="3" y="38" width="1" height="1" fill="#eded12"/>
<rect x="4" y="38" width="1" height="1" fill="#efef10"/>
<rect x="5" y="38" width="1" height="1" fill="#f0f00f"/>
<rect x="6" y="38" width="2" height="1" fill="#f1f10e"/>
<rect x="8" y="38" width="1" height="1" fill="#f2f20e"/>
<rect x="9" y="38" width="8" height="1" fill="#f2f20d"/>
<rect x="17" y="38" width="1" height="1" fill="#f3f30d"/>
<rect x="18" y="38" width="14" height="1" fill="#f3f30c"/>
<rect x="32" y="38" width="1" height="1" fill="#f3f30d"/>
<rect x="33" y="38" width="8" height="1" fill="#f2f20d"/>
<rect x="41" y="38" width="1" height="1" fill="#f2f20e"/>
<rect x="42" y="38" width="2" height="1" fill="#f1f10e"/>
<rect x="44" y="38" width="1" height="1" fill="#f0f00f"/>
<rect x="45" y="38" width="1" height="1" fill="#efef10"/>
<rect x="46" y="38" width="1" height="1" fill="#eded12"/>
<rect x="47" y="38" width="1" height="1" fill="#eaea15"/>
<rect x="48" y="38" width="1" height="1" fill="#e5e51a"/>
<rect x="49" y="38" width="1" height="1" fill="#dede21"/>
<rect x="0" y="39" width="1" height="1" fill="#d9d926"/>
<rect x="1" y="39" width="1" height="1" fill="#e2e21e"/>
<rect x="2" y="39" width="1" height="1" fill="#e8e817"/>
<rect x="3" y="39" width="1" height="1" fill="#ecec13"/>
<rect x="4" y="39" width="1" height="1" fill="#eeee11"/>
<rect x="5" y="39" width="1" height="1" fill="#f0f00f"/>
<rect x="6" y="39" width="1" height="1" fill="#f1f10f"/>
<rect x="7" y="39" width="2" height="1" fill="#f1f10e"/>
<rect x="9" y="39" width="1" height="1" fill="#f2f20e"/>
<rect x="10" y="39" width="9" height="1" fill="#f2f20d"/>
<rect x="19" y="39" width="2" height="1" fill="#f3f30d"/>
<rect x="21" y="39" width="8" height="1" fill="#f3f30c"/>
<rect x="29" y="39" width="2" height="1" fill="#f3f30d"/>
<rect x="31" y="39" width="9" height="1" fill="#f2f20d"/>
<rect x="40" y="39" width="1" height="1" fill="#f2f20e"/>
<rect x="41" y="39" width="2" height="1" fill="#f1f10e"/>
<rect x="43" y="39" width="1" height="1" fill="#f1f10f"/>
<rect x="44" y="39" width="1" height="1" fill="#f0f00f"/>
<rect x="45" y="39" width="1" height="1" fill="#eeee11"/>
<rect x="46" y="39" width="1" height="1" fill="#ecec13"/>
<rect x="47" y="39" width="1" height="1" fill="#e8e817"/>
<rect x="48" y="39" width="1" height="1" fill="#e2e21e"/>
<rect x="49" y="39" width="1" height="1" fill="#d9d926"/>
<rect x="0" y="40" width="1" height="1" fill="#d4d42c"/>
<rect x="1" y="40" width="1" height="1" fill="#dddd22"/>
<rect x="2" y="40" width="1" height="1" fill="#e5e51b"/>
<rect x="3" y="40" width="1" height="1" fill="#eaea15"/>
<rect x="4" y="40" width="1" height="1" fill="#eded12"/>
<rect x="5" y="40" width="1" height="1" fill="#efef10"/>
<rect x="6" y="40" width="1" height="1" fill="#f0f00f"/>
<rect x="7" y="40" width="3" height="1" fill="#f1f10e"/>
<rect x="10" y="40" width="1" height="1" fill="#f2f20e"/>
<rect x="11" y="40" width="12" height="1" fill="#f2f20d"/>
<rect x="23" y="40" width="4" height="1" fill="#f3f30d"/>
<rect x="27" y="40" width="12" height="1" fill="#f2f20d"/>
<rect x="39" y="40" width="1" height="1" fill="#f2f20e"/>
<rect x="40" y="40" width="3" height="1" fill="#f1f10e"/>
<rect x="43" y="40" width="1" height="1" fill="#f0f00f"/>
<rect x="44" y="40" width="1" height="1" fill="#efef10"/>
<rect x="45" y="40" width="1" height="1" fill="#eded12"/>
<rect x="46" y="40" width="1" height="1" fill="#eaea15"/>
<rect x="47" y="40" width="1" height="1" fill="#e5e51b"/>
<rect x="48" y="40" width="1" height="1" fill="#dddd22"/>
<rect x="49" y="40" width="1" height="1" fill="#d4d42c"/>
<rect x="0" y="41" width="1" height="1" fill="#cece32"/>
<rect x="1" y="41" width="1" height="1" fill="#d7d728"/>
<rect x="2" y="41" width="1" height="1" fill="#e0e01f"/>
<rect x="3" y="41" width="1" height="1" fill="#e7e718"/>
<rect x="4" y="41" width="1" height="1" fill="#ecec14"/>
<rect x="5" y="41" width="1" height="1" fill="#eeee11"/>
<rect x="6" y="41" width="1" height="1" fill="#f0f00f"/>
<rect x="7" y="41" width="1" height="1" fill="#f1f10f"/>
<rect x="8" y="41" width="3" height="1" fill="#f1f10e"/>
<rect x="11" y="41" width="1" height="1" fill="#f2f20e"/>
<rect x="12" y="41" width="26" height="1" fill="#f2f20d"/>
<rect x="38" y="41" width="1" height="1" fill="#f2f20e"/>
<rect x="39" y="41" width="3" height="1" fill="#f1f10e"/>
<rect x="42" y="41" width="1" height="1" fill="#f1f10f"/>
<rect x="43" y="41" width="1" height="1" fill="#f0f00f"/>
<rect x="44" y="41" width="1" height="1" fill="#eeee11"/>
<rect x="45" y="41" width="1" height="1" fill="#ecec14"/>
<rect x="46" y="41" width="1" height="1" fill="#e7e718"/>
<rect x="47" y="41" width="1" height="1" fill="#e0e01f"/>
<rect x="48" y="41" width="1" height="1" fill="#d7d728"/>
<rect x="49" y="41" width="1" height="1" fill="#cece32"/>
<rect x="0" y="42" width="1" height="1" fill="#c8c837"/>
<rect x="1" y="42" width="1" height="1" fill="#d1d12f"/>
<rect x="2" y="42" width="1" height="1" fill="#dada25"/>
<rect x="3" y="42" width="1" height="1" fill="#e3e31d"/>
<rect x="4" y="42" width="1" height="1" fill="#e9e916"/>
<rect x="5" y="42" width="1" height="1" fill="#eded13"/>
<rect x="6" y="42" width="1" height="1" fill="#efef10"/>
<rect x="7" y="42" width="1" height="1" fill="#f0f00f"/>
<rect x="8" y="42" width="1" height="1" fill="#f1f10f"/>
<rect x="9" y="42" width="6" height="1" fill="#f1f10e"/>
<rect x="15" y="42" width="1" height="1" fill="#f2f20e"/>
<rect x="16" y="42" width="18" height="1" fill="#f2f20d"/>
<rect x="34" y="42" width="1" height="1" fill="#f2f20e"/>
<rect x="35" y="42" width="6" height="1" fill="#f1f10e"/>
<rect x="41" y="42" width="1" height="1" fill="#f1f10f"/>
<rect x="42" y="42" width="1" height="1" fill="#f0f00f"/>
<rect x="43" y="42" width="1" height="1" fill="#efef10"/>
<rect x="44" y="42" width="1" height="1" fill="#eded13"/>
<rect x="45" y="42" width="1" height="1" fill="#e9e916"/>
<rect x="46" y="42" width="1" height="1" fill="#e3e31d"/>
<rect x="47" y="42" width="1" height="1" fill="#dada25"/>
<rect x="48" y="42" width="1" height="1" fill="#d1d12f"/>
<rect x="49" y="42" width="1" height="1" fill="#c8c837"/>
<rect x="0" y="43" width="1" height="1" fill="#c5c53b"/>
<rect x="1" y="43" width="1" height="1" fill="#caca35"/>
<rect x="2" y="43" width="1" height="1" fill="#d3d32c"/>
<rect x="3" y="43" width="1" height="1" fill="#dddd23"/>
<rect x="4" y="43" width="1" height="1" fill="#e4e41b"/>
<rect x="5" y="43" width="1" height="1" fill="#eaea15"/>
<rect x="6" y="43" width="1" height="1" fill="#eded12"/>
<rect x="7" y="43" width="1" height="1" fill="#efef10"/>
<rect x="8" y="43" width="2" height="1" fill="#f0f00f"/>
<rect x="10" y="43" width="1" height="1" fill="#f1f10f"/>
<rect x="11" y="43" width="10" height="1" fill="#f1f10e"/>
<rect x="21" y="43" width="1" height="1" fill="#f2f20e"/>
<rect x="22" y="43" width="6" height="1" fill="#f2f20d"/>
<rect x="28" y="43" width="1" height="1" fill="#f2f20e"/>
<rect x="29" y="43" width="10" height="1" fill="#f1f10e"/>
<rect x="39" y="43" width="1" height="1" fill="#f1f10f"/>
<rect x="40" y="43" width="2" height="1" fill="#f0f00f"/>
<rect x="42" y="43" width="1" height="1" fill="#efef10"/>
<rect x="43" y="43" width="1" height="1" fill="#eded12"/>
<rect x="44" y="43" width="1" height="1" fill="#eaea15"/>
<rect x="45" y="43" width="1" height="1" fill="#e4e41b"/>
<rect x="46" y="43" width="1" height="1" fill="#dddd23"/>
<rect x="47" y="43" width="1" height="1" fill="#d3d32c"/>
<rect x="48" y="43" width="1" height="1" fill="#caca35"/>
<rect x="49" y="43" width="1" height="1" fill="#c5c53b"/>
<rect x="0" y="44" width="1" height="1" fill="#c4c43c"/>
<rect x="1" y="44" width="1" height="1" fill="#c6c63a"/>
<rect x="2" y="44" width="1" height="1" fill="#cdcd33"/>
<rect x="3" y="44" width="1" height="1" fill="#d6d62a"/>
<rect x="4" y="44" width="1" height="1" fill="#dede21"/>
<rect x="5" y="44" width="1" height="1" fill="#e5e51a"/>
<rect x="6" y="44" width="1" height="1" fill="#eaea15"/>
<rect x="7" y="44" width="1" height="1" fill="#eded13"/>
<rect x="8" y="44" width="1" height="1" fill="#eeee11"/>
<rect x="9" y="44" width="1" height="1" fill="#efef10"/>
<rect x="10" y="44" width="6" height="1" fill="#f0f00f"/>
<rect x="16" y="44" width="2" height="1" fill="#f1f10f"/>
<rect x="18" y="44" width="5" height="1" fill="#f1f10e"/>
<rect x="23" y="44" width="4" height="1" fill="#f2f20d"/>
<rect x="27" y="44" width="5" height="1" fill="#f1f10e"/>
<rect x="32" y="44" width="2" height="1" fill="#f1f10f"/>
<rect x="34" y="44" width="6" height="1" fill="#f0f00f"/>
<rect x="40" y="44" width="1" height="1" fill="#efef10"/>
<rect x="41" y="44" width="1" height="1" fill="#eeee11"/>
<rect x="42" y="44" width="1" height="1" fill="#eded13"/>
<rect x="43" y="44" width="1" height="1" fill="#eaea15"/>
<rect x="44" y="44" width="1" height="1" fill="#e5e51a"/>
<rect x="45" y="44" width="1" height="1" fill="#dede21"/>
<rect x="46" y="44" width="1" height="1" fill="#d6d62a"/>
<rect x="47" y="44" width="1" height="1" fill="#cdcd33"/>
<rect x="48" y="44" width="1" height="1" fill="#c6c63a"/>
<rect x="49" y="44" width="1" height="1" fill="#c4c43c"/>
<rect x="0" y="45" width="1" height="1" fill="#c7c738"/>
<rect x="1" y="45" width="1" height="1" fill="#c4c43b"/>
<rect x="2" y="45" width="1" height="1" fill="#c7c738"/>
<rect x="3" y="45" width="1" height="1" fill="#cece31"/>
<rect x="4" y="45" width="1" height="1" fill="#d7d729"/>
<rect x="5" y="45" width="1" height="1" fill="#dede21"/>
<rect x="6" y="45" width="1" height="1" fill="#e4e41b"/>
<rect x="7" y="45" width="1" height="1" fill="#e9e916"/>
<rect x="8" y="45" width="1" height="1" fill="#ecec14"/>
<rect x="9" y="45" width="1" height="1" fill="#eded12"/>
<rect x="10" y="45" width="1" height="1" fill="#eeee11"/>
<rect x="11" y="45" width="4" height="1" fill="#efef10"/>
<rect x="15" y="45" width="2" height="1" fill="#f0f010"/>
<rect x="17" y="45" width="5" height="1" fill="#f0f00f"/>
<rect x="22" y="45" width="2" height="1" fill="#f1f10e"/>
<rect x="24" y="45" width="2" height="1" fill="#f2f20d"/>
<rect x="26" y="45" width="2" height="1" fill="#f1f10e"/>
<rect x="28" y="45" width="5" height="1" fill="#f0f00f"/>
<rect x="33" y="45" width="2" height="1" fill="#f0f010"/>
<rect x="35" y="45" width="4" height="1" fill="#efef10"/>
<rect x="39" y="45" width="1" height="1" fill="#eeee11"/>
<rect x="40" y="45" width="1" height="1" fill="#eded12"/>
<rect x="41" y="45" width="1" height="1" fill="#ecec14"/>
<rect x="42" y="45" width="1" height="1" fill="#e9e916"/>
<rect x="43" y="45" width="1" height="1" fill="#e4e41b"/>
<rect x="44" y="45" width="1" height="1" fill="#dede21"/>
<rect x="45" y="45" width="1" height="1" fill="#d7d729"/>
<rect x="46" y="45" width="1" height="1" fill="#cece31"/>
<rect x="47" y="45" width="1" height="1" fill="#c7c738"/>
<rect x="48" y="45" width="1" height="1" fill="#c4c43b"/>
<rect x="49" y="45" width="1" height="1" fill="#c7c738"/>
<rect x="0" y="46" width="1" height="1" fill="#d0d030"/>
<rect x="1" y="46" width="1" height="1" fill="#c7c739"/>
<rect x="2" y="46" width="1" height="1" fill="#c5c53b"/>
<rect x="3" y="46" width="1" height="1" fill="#c8c837"/>
<rect x="4" y="46" width="1" height="1" fill="#cece31"/>
<rect x="5" y="46" width="1" height="1" fill="#d6d62a"/>
<rect x="6" y="46" width="1" height="1" fill="#dddd23"/>
<rect x="7" y="46" width="1" height="1" fill="#e3e31d"/>
<rect x="8" y="46" width="1" height="1" fill="#e7e718"/>
<rect x="9" y="46" width="1" height="1" fill="#eaea15"/>
<rect x="10" y="46" width="1" height="1" fill="#ecec13"/>
<rect x="11" y="46" width="1" height="1" fill="#eded12"/>
<rect x="12" y="46" width="1" height="1" fill="#eeee12"/>
<rect x="13" y="46" width="4" height="1" fill="#eeee11"/>
<rect x="17" y="46" width="1" height="1" fill="#efef11"/>
<rect x="18" y="46" width="4" height="1" fill="#efef10"/>
<rect x="22" y="46" width="1" height="1" fill="#f0f00f"/>
<rect x="23" y="46" width="1" height="1" fill="#f1f10e"/>
<rect x="24" y="46" width="2" height="1" fill="#f2f20e"/>
<rect x="26" y="46" width="1" height="1" fill="#f1f10e"/>
<rect x="27" y="46" width="1" height="1" fill="#f0f00f"/>
<rect x="28" y="46" width="4" height="1" fill="#efef10"/>
<rect x="32" y="46" width="1" height="1" fill="#efef11"/>
<rect x="33" y="46" width="4" height="1" fill="#eeee11"/>
<rect x="37" y="46" width="1" height="1" fill="#eeee12"/>
<rect x="38" y="46" width="1" height="1" fill="#eded12"/>
<rect x="39" y="46" width="1" height="1" fill="#ecec13"/>
<rect x="40" y="46" width="1" height="1" fill="#eaea15"/>
<rect x="41" y="46" width="1" height="1" fill="#e7e718"/>
<rect x="42" y="46" width="1" height="1" fill="#e3e31d"/>
<rect x="43" y="46" width="1" height="1" fill="#dddd23"/>
<rect x="44" y="46" width="1" height="1" fill="#d6d62a"/>
<rect x="45" y="46" width="1" height="1" fill="#cece31"/>
<rect x="46" y="46" width="1" height="1" fill="#c8c837"/>
<rect x="47" y="46" width="1" height="1" fill="#c5c53b"/>
<rect x="48" y="46" width="1" height="1" fill="#c7c739"/>
<rect x="49" y="46" width="1" height="1" fill="#d0d030"/>
<rect x="0" y="47" width="1" height="1" fill="#dbdb24"/>
<rect x="1" y="47" width="1" height="1" fill="#cfcf30"/>
<rect x="2" y="47" width="1" height="1" fill="#c7c738"/>
<rect x="3" y="47" width="1" height="1" fill="#c5c53b"/>
<rect x="4" y="47" width="1" height="1" fill="#c7c738"/>
<rect x="5" y="47" width="1" height="1" fill="#cdcd33"/>
<rect x="6" y="47" width="1" height="1" fill="#d3d32c"/>
<rect x="7" y="47" width="1" height="1" fill="#dada25"/>
<rect x="8" y="47" width="1" height="1" fill="#e0e01f"/>
<rect x="9" y="47" width="1" height="1" fill="#e5e51b"/>
<rect x="10" y="47" width="1" height="1" fill="#e8e817"/>
<rect x="11" y="47" width="1" height="1" fill="#eaea15"/>
<rect x="12" y="47" width="1" height="1" fill="#ebeb14"/>
<rect x="13" y="47" width="1" height="1" fill="#ecec13"/>
<rect x="14" y="47" width="5" height="1" fill="#eded12"/>
<rect x="19" y="47" width="2" height="1" fill="#eeee11"/>
<rect x="21" y="47" width="1" height="1" fill="#efef11"/>
<rect x="22" y="47" width="1" height="1" fill="#f0f010"/>
<rect x="23" y="47" width="1" height="1" fill="#f1f10f"/>
<rect x="24" y="47" width="2" height="1" fill="#f1f10e"/>
<rect x="26" y="47" width="1" height="1" fill="#f1f10f"/>
<rect x="27" y="47" width="1" height="1" fill="#f0f010"/>
<rect x="28" y="47" width="1" height="1" fill="#efef11"/>
<rect x="29" y="47" width="2" height="1" fill="#eeee11"/>
<rect x="31" y="47" width="5" height="1" fill="#eded12"/>
<rect x="36" y="47" width="1" height="1" fill="#ecec13"/>
<rect x="37" y="47" width="1" height="1" fill="#ebeb14"/>
<rect x="38" y="47" width="1" height="1" fill="#eaea15"/>
<rect x="39" y="47" width="1" height="1" fill="#e8e817"/>
<rect x="40" y="47" width="1" height="1" fill="#e5e51b"/>
<rect x="41" y="47" width="1" height="1" fill="#e0e01f"/>
<rect x="42" y="47" width="1" height="1" fill="#dada25"/>
<rect x="43" y="47" width="1" height="1" fill="#d3d32c"/>
<rect x="44" y="47" width="1" height="1" fill="#cdcd33"/>
<rect x="45" y="47" width="1" height="1" fill="#c7c738"/>
<rect x="46" y="47" width="1" height="1" fill="#c5c53b"/>
<rect x="47" y="47" width="1" height="1" fill="#c7c738"/>
<rect x="48" y="47" width="1" height="1" fill="#cfcf30"/>
<rect x="49" y="47" width="1" height="1" fill="#dbdb24"/>
<rect x="0" y="48" width="1" height="1" fill="#e5e51a"/>
<rect x="1" y="48" width="1" height="1" fill="#dbdb24"/>
<rect x="2" y="48" width="1" height="1" fill="#cfcf30"/>
<rect x="3" y="48" width="1" height="1" fill="#c7c739"/>
<rect x="4" y="48" width="1" height="1" fill="#c4c43b"/>
<rect x="5" y="48" width="1" height="1" fill="#c6c63a"/>
<rect x="6" y="48" width="1" height="1" fill="#caca35"/>
<rect x="7" y="48" width="1" height="1" fill="#d1d12f"/>
<rect x="8" y="48" width="1" height="1" fill="#d7d728"/>
<rect x="9" y="48" width="1" height="1" fill="#dddd22"/>
<rect x="10" y="48" width="1" height="1" fill="#e2e21e"/>
<rect x="11" y="48" width="1" height="1" fill="#e5e51a"/>
<rect x="12" y="48" width="1" height="1" fill="#e8e818"/>
<rect x="13" y="48" width="1" height="1" fill="#e9e916"/>
<rect x="14" y="48" width="1" height="1" fill="#eaea15"/>
<rect x="15" y="48" width="1" height="1" fill="#ebeb14"/>
<rect x="16" y="48" width="4" height="1" fill="#ecec13"/>
<rect x="20" y="48" width="1" height="1" fill="#eded12"/>
<rect x="21" y="48" width="1" height="1" fill="#eeee11"/>
<rect x="22" y="48" width="1" height="1" fill="#efef10"/>
<rect x="23" y="48" width="1" height="1" fill="#f0f00f"/>
<rect x="24" y="48" width="2" height="1" fill="#f1f10e"/>
<rect x="26" y="48" width="1" height="1" fill="#f0f00f"/>
<rect x="27" y="48" width="1" height="1" fill="#efef10"/>
<rect x="28" y="48" width="1" height="1" fill="#eeee11"/>
<rect x="29" y="48" width="1" height="1" fill="#eded12"/>
<rect x="30" y="48" width="4" height="1" fill="#ecec13"/>
<rect x="34" y="48" width="1" height="1" fill="#ebeb14"/>
<rect x="35" y="48" width="1" height="1" fill="#eaea15"/>
<rect x="36" y="48" width="1" height="1" fill="#e9e916"/>
<rect x="37" y="48" width="1" height="1" fill="#e8e818"/>
<rect x="38" y="48" width="1" height="1" fill="#e5e51a"/>
<rect x="39" y="48" width="1" height="1" fill="#e2e21e"/>
<rect x="40" y="48" width="1" height="1" fill="#dddd22"/>
<rect x="41" y="48" width="1" height="1" fill="#d7d728"/>
<rect x="42" y="48" width="1" height="1" fill="#d1d12f"/>
<rect x="43" y="48" width="1" height="1" fill="#caca35"/>
<rect x="44" y="48" width="1" height="1" fill="#c6c63a"/>
<rect x="45" y="48" width="1" height="1" fill="#c4c43b"/>
<rect x="46" y="48" width="1" height="1" fill="#c7c739"/>
<rect x="47" y="48" width="1" height="1" fill="#cfcf30"/>
<rect x="48" y="48" width="1" height="1" fill="#dbdb24"/>
<rect x="49" y="48" width="1" height="1" fill="#e5e51a"/>
<rect x="0" y="49" width="1" height="1" fill="#ffff00"/>
<rect x="1" y="49" width="1" height="1" fill="#e5e51a"/>
<rect x="2" y="49" width="1" height="1" fill="#dbdb24"/>
<rect x="3" y="49" width="1" height="1" fill="#d0d030"/>
<rect x="4" y="49" width="1" height="1" fill="#c7c738"/>
<rect x="5" y="49" width="1" height="1" fill="#c4c43c"/>
<rect x="6" y="49" width="1" height="1" fill="#c5c53b"/>
<rect x="7" y="49" width="1" height="1" fill="#c8c837"/>
<rect x="8" y="49" width="1" height="1" fill="#cece32"/>
<rect x="9" y="49" width="1" height="1" fill="#d4d42c"/>
<rect x="10" y="49" width="1" height="1" fill="#d9d926"/>
<rect x="11" y="49" width="1" height="1" fill="#dede21"/>
<rect x="12" y="49" width="1" height="1" fill="#e2e21d"/>
<rect x="13" y="49" width="1" height="1" fill="#e5e51a"/>
<rect x="14" y="49" width="1" height="1" fill="#e7e718"/>
<rect x="15" y="49" width="1" height="1" fill="#e8e817"/>
<rect x="16" y="49" width="1" height="1" fill="#eaea16"/>
<rect x="17" y="49" width="1" height="1" fill="#eaea15"/>
<rect x="18" y="49" width="2" height="1" fill="#ebeb14"/>
<rect x="20" y="49" width="1" height="1" fill="#ecec13"/>
<rect x="21" y="49" width="1" height="1" fill="#eded12"/>
<rect x="22" y="49" width="1" height="1" fill="#eeee11"/>
<rect x="23" y="49" width="1" height="1" fill="#f0f010"/>
<rect x="24" y="49" width="2" height="1" fill="#f1f10f"/>
<rect x="26" y="49" width="1" height="1" fill="#f0f010"/>
<rect x="27" y="49" width="1" height="1" fill="#eeee11"/>
<rect x="28" y="49" width="1" height="1" fill="#eded12"/>
<rect x="29" y="49" width="1" height="1" fill="#ecec13"/>
<rect x="30" y="49" width="2" height="1" fill="#ebeb14"/>
<rect x="32" y="49" width="1" height="1" fill="#eaea15"/>
<rect x="33" y="49" width="1" height="1" fill="#eaea16"/>
<rect x="34" y="49" width="1" height="1" fill="#e8e817"/>
<rect x="35" y="49" width="1" height="1" fill="#e7e718"/>
<rect x="36" y="49" width="1" height="1" fill="#e5e51a"/>
<rect x="37" y="49" width="1" height="1" fill="#e2e21d"/>
<rect x="38" y="49" width="1" height="1" fill="#dede21"/>
<rect x="39" y="49" width="1" height="1" fill="#d9d926"/>
<rect x="40" y="49" width="1" height="1" fill="#d4d42c"/>
<rect x="41" y="49" width="1" height="1" fill="#cece32"/>
<rect x="42" y="49" width="1" height="1" fill="#c8c837"/>
<rect x="43" y="49" width="1" height="1" fill="#c5c53b"/>
<rect x="44" y="49" width="1" height="1" fill="#c4c43c"/>
<rect x="45" y="49" width="1" height="1" fill="#c7c738"/>
<rect x="46" y="49" width="1" height="1" fill="#d0d030"/>
<rect x="47" y="49" width="1" height="1" fill="#dbdb24"/>
<rect x="48" y="49" width="1" height="1" fill="#e5e51a"/>
<rect x="49" y="49" width="1" height="1" fill="#ffff00"/>
</svg>
<rect x="627" y="60" width="24.5" height="480.5" fill="url(#cb)"/>
<g fill="#000">
<rect x="107.8" y="59.8" width="1.2" height="481.4"/><rect x="588" y="59.8" width="1.2" height="481.4"/>
<rect x="107.8" y="59.8" width="481.4" height="1.2"/><rect x="107.8" y="540" width="481.4" height="1.2"/>
<rect x="626.8" y="59.8" width="1.2" height="481.4"/><rect x="651" y="59.8" width="1.2" height="481.4"/>
<rect x="626.8" y="59.8" width="25.4" height="1.2"/><rect x="626.8" y="540" width="25.4" height="1.2"/>
</g>
<g fill="#000" fill-opacity="0.72">
<rect x="228" y="61" width="1" height="5.35"/><rect x="228" y="533.65" width="1" height="6.35"/><rect x="348" y="61" width="1" height="5.35"/><rect x="348" y="533.65" width="1" height="6.35"/><rect x="468" y="61" width="1" height="5.35"/><rect x="468" y="533.65" width="1" height="6.35"/><rect x="109" y="180" width="6.35" height="1"/><rect x="582.65" y="180" width="5.35" height="1"/><rect x="109" y="300" width="6.35" height="1"/><rect x="582.65" y="300" width="5.35" height="1"/><rect x="109" y="420" width="6.35" height="1"/><rect x="582.65" y="420" width="5.35" height="1"/><rect x="645.65" y="108" width="5.35" height="1"/><rect x="645.65" y="156" width="5.35" height="1"/><rect x="645.65" y="204" width="5.35" height="1"/><rect x="645.65" y="252" width="5.35" height="1"/><rect x="645.65" y="300" width="5.35" height="1"/><rect x="645.65" y="348" width="5.35" height="1"/><rect x="645.65" y="396" width="5.35" height="1"/><rect x="645.65" y="444" width="5.35" height="1"/><rect x="645.65" y="492" width="5.35" height="1"/>
</g>
</svg>
<div class="t" style="left:78.39px;top:51.21px;font-size:17.5px;transform:scaleX(0.9665)">1.0</div>
<div class="t" style="left:76.35px;top:171.21px;font-size:17.5px;transform:scaleX(1.0350)">0.5</div>
<div class="t" style="left:76.35px;top:291.21px;font-size:17.5px;transform:scaleX(1.0350)">0.0</div>
<div class="t" style="left:75.98px;top:411.21px;font-size:17.5px;transform:scaleX(1.0473)">0.5</div>
<div class="t" style="left:77.36px;top:531.21px;font-size:17.5px;transform:scaleX(1.0202)">1.0</div>
<div class="t" style="left:103.35px;top:546.21px;font-size:17.5px;transform:scaleX(1.0350)">1.0</div>
<div class="t" style="left:221.98px;top:546.21px;font-size:17.5px;transform:scaleX(1.0473)">0.5</div>
<div class="t" style="left:335.35px;top:546.21px;font-size:17.5px;transform:scaleX(1.0350)">0.0</div>
<div class="t" style="left:455.35px;top:546.21px;font-size:17.5px;transform:scaleX(1.0350)">0.5</div>
<div class="t" style="left:577.39px;top:546.21px;font-size:17.5px;transform:scaleX(0.9665)">1.0</div>
<div class="t" style="left:657.35px;top:51.21px;font-size:17.5px;transform:scaleX(1.0350)">2.0</div>
<div class="t" style="left:658.38px;top:99.21px;font-size:17.5px;transform:scaleX(0.9900)">1.6</div>
<div class="t" style="left:658.38px;top:147.21px;font-size:17.5px;transform:scaleX(0.9900)">1.2</div>
<div class="t" style="left:657.35px;top:195.21px;font-size:17.5px;transform:scaleX(1.0350)">0.8</div>
<div class="t" style="left:657.38px;top:243.21px;font-size:17.5px;transform:scaleX(0.9919)">0.4</div>
<div class="t" style="left:657.35px;top:291.21px;font-size:17.5px;transform:scaleX(1.0350)">0.0</div>
<div class="t" style="left:669.98px;top:339.21px;font-size:17.5px;transform:scaleX(1.0473)">0.4</div>
<div class="t" style="left:669.98px;top:387.21px;font-size:17.5px;transform:scaleX(1.0473)">0.8</div>
<div class="t" style="left:671.35px;top:435.21px;font-size:17.5px;transform:scaleX(1.0350)">1.2</div>
<div class="t" style="left:671.35px;top:483.21px;font-size:17.5px;transform:scaleX(1.0350)">1.6</div>
<div class="t" style="left:669.98px;top:531.21px;font-size:17.5px;transform:scaleX(1.0473)">2.0</div>
<div class="t" style="left:170.32px;top:36.07px;font-size:20px;transform:scaleX(1.0811)">Pressure</div>
<div class="t" style="left:262.80px;top:36.07px;font-size:20px;transform:scaleX(1.2463)">at</div>
<div class="t" style="left:290.21px;top:36.07px;font-size:20px;transform:scaleX(1.2140)">time</div>
<div class="t" style="left:341.86px;top:36.07px;font-size:20px;transform:scaleX(1.3000)">t</div>
<div class="t" style="left:356.05px;top:37.07px;font-size:20px;transform:scaleX(1.3779)">=</div>
<div class="t" style="left:404.21px;top:36.07px;font-size:20px;transform:scaleX(1.1504)">0.95000000</div>
<svg width="800" height="600" viewBox="0 0 800 600"><rect x="64.75" y="418.97" width="10.4" height="1.4"/><rect x="64.75" y="538.97" width="10.4" height="1.4"/><rect x="90.75" y="553.97" width="10.4" height="1.4"/><rect x="210.75" y="553.97" width="10.4" height="1.4"/><rect x="658.75" y="346.97" width="10.4" height="1.4"/><rect x="658.75" y="394.97" width="10.4" height="1.4"/><rect x="658.75" y="442.97" width="10.4" height="1.4"/><rect x="658.75" y="490.97" width="10.4" height="1.4"/><rect x="658.75" y="538.97" width="10.4" height="1.4"/></svg>
</body></html>
